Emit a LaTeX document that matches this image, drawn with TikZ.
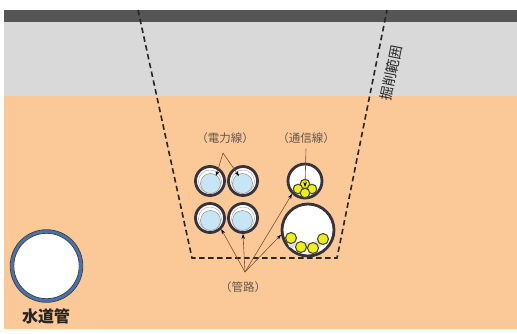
\documentclass[tikz,border=0pt]{standalone}
\usepackage{fontspec}
\newfontfamily\jp{Noto Sans CJK JP}
\usetikzlibrary{arrows.meta}
\definecolor{pave}{RGB}{85,85,85}
\definecolor{base}{RGB}{217,217,217}
\definecolor{soil}{RGB}{251,201,152}
\definecolor{lbl}{RGB}{100,86,76}
\definecolor{lead}{RGB}{122,82,48}
\definecolor{cable}{RGB}{200,229,246}
\definecolor{ring}{RGB}{55,50,60}
\definecolor{fiber}{RGB}{236,240,20}
\definecolor{fiberedge}{RGB}{80,76,40}
\definecolor{water}{RGB}{70,115,180}
\tikzset{
  conduit/.style={circle,draw=ring,line width=2.8pt,fill=white,inner sep=0pt,minimum size=#1},
  powercable/.style={circle,draw=black!40,line width=0.6pt,fill=cable,inner sep=0pt,minimum size=20pt},
  innerline/.style={circle,draw=black!30,line width=0.5pt,inner sep=0pt,minimum size=23pt},
  commcable/.style={circle,draw=fiberedge,line width=1.1pt,fill=fiber,inner sep=0pt,minimum size=#1},
  tag/.style={font=\jp\fontsize{11.5}{13}\selectfont,text=lbl,inner sep=0pt},
  leader/.style={draw=lead,line width=0.6pt,-{Stealth[length=5pt,width=3.5pt,black]}},
  trench/.style={draw=black!85,line width=1.6pt,dash pattern=on 5.5pt off 3.5pt}
}
\begin{document}
\begin{tikzpicture}[x=1pt,y=-1pt]
\useasboundingbox (0,0) rectangle (517,333);
\fill[white] (0,0) rectangle (517,333);
% ground layers
\fill[soil] (4,96) rectangle (517,329);
\fill[base] (4,22) rectangle (517,96);
\fill[pave] (4,10) rectangle (517,22);
% excavation outline
\coordinate (e1) at (138,10);
\coordinate (e2) at (192,258);
\coordinate (e3) at (337,258);
\coordinate (e4) at (387,10);
\draw[trench] (e1) -- (e2) -- (e3) -- (e4);
\node[font=\jp\fontsize{14}{15}\selectfont,text=black!85,rotate=78.6,inner sep=0pt] (range) at (391,73) {掘削範囲};
% power conduits
\foreach \n/\x/\y/\dx in {p1/210/181/1,p2/243/181/-1,p3/210/218/1,p4/243/218/-1}{
  \node[conduit=29pt] (\n) at (\x,\y) {};
  \node[innerline] at (\x,\y+0.5) {};
  \node[powercable] (\n c) at (\x+\dx*0.5,\y+2.5) {};
}
% communication conduits
\node[conduit=34pt] (cs) at (305,181) {};
\foreach \x/\y in {305/184,298/189,312/189,305/193}
  \node[commcable=9.5pt] at (\x,\y) {};
\node[conduit=52pt] (cb) at (308,230) {};
\fill[black!12] (292,244) circle (4pt) (318,244) circle (4pt) (307,246) circle (4pt);
\foreach \x/\y in {291/238,301/247,313/248,323/239}
  \node[commcable=11pt] at (\x,\y) {};
% water main
\node[circle,draw=water,line width=3.2pt,fill=white,inner sep=0pt,minimum size=69pt] (wm) at (46.5,266) {};
\draw[black!75,line width=0.8pt] (wm.center) circle (36.3pt) (wm.center) circle (32.7pt);
\node[font=\jp\bfseries\fontsize{16}{18}\selectfont,text=black!85,inner sep=0pt] (wml) at (46,316) {水道管};
% labels and leaders
\node[tag] (lp) at (225,138) {（電力線）};
\node[tag] (lc) at (306,138) {（通信線）};
\node[tag] (ld) at (243,287) {（管路）};
\coordinate (ap) at (223,153);
\coordinate (ad) at (245,272);
\coordinate (t1) at (216,176);
\coordinate (t2) at (239,176);
\draw[leader] (ap) -- (t1);
\draw[leader] (ap) -- (t2);
\draw[leader] (lc.south) ++(0,5) -- ([yshift=-6pt]cs.center);
\draw[leader] (ad) -- (p3.-45);
\draw[leader] (ad) -- (p4.south);
\draw[leader] (ad) -- (cb.190);
\draw[leader] (ad) -- (cs.225);
\end{tikzpicture}
\end{document}
